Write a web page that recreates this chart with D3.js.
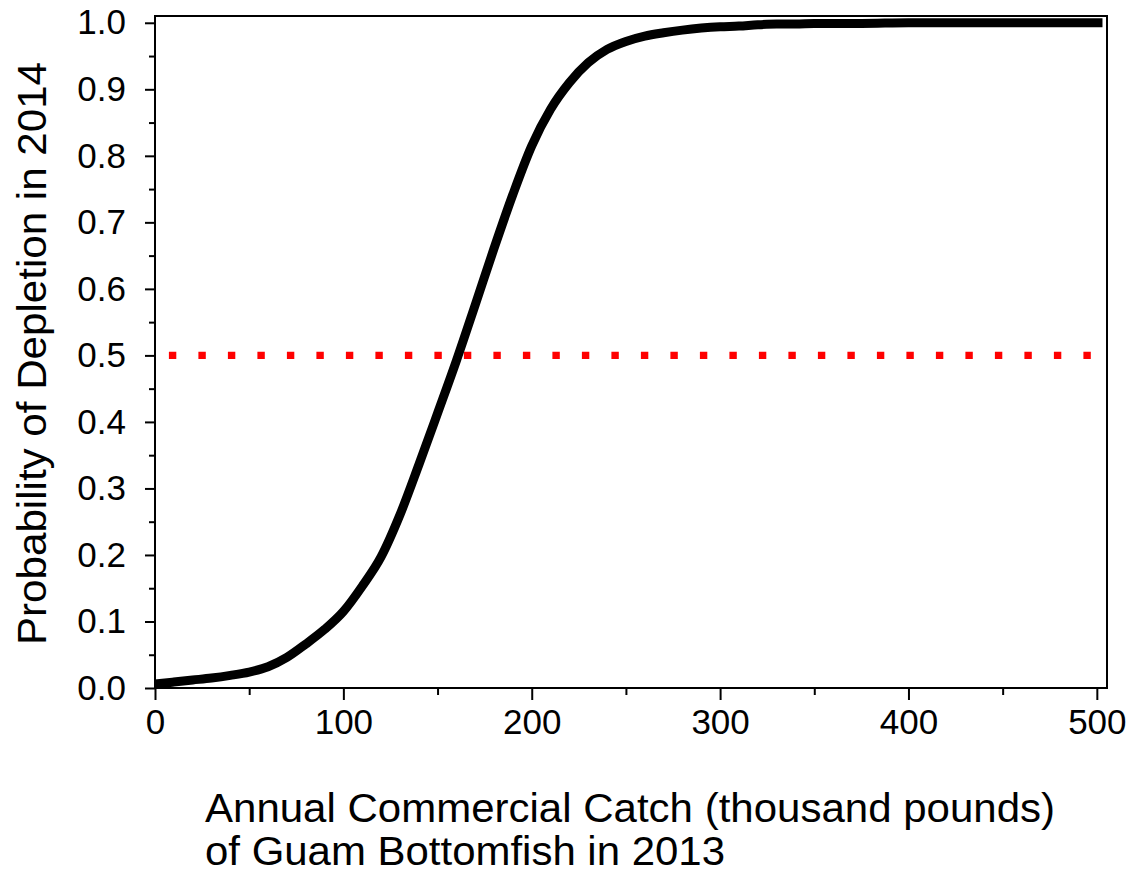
<!DOCTYPE html>
<html>
<head>
<meta charset="utf-8">
<script src="https://cdn.jsdelivr.net/npm/d3@7"></script>
<style>
  body { margin: 0; background: #fff; }
  text { font-family: "Liberation Sans", Arial, sans-serif; fill: #000; }
</style>
</head>
<body>
<script>
// catch (thousand pounds) and probability of depletion
const catchK = [0, 10, 20, 30, 40, 50, 60, 70, 80, 90, 100, 110, 120, 130, 140, 150,
  160, 170, 180, 190, 200, 210, 220, 230, 240, 250, 260, 270, 280, 290, 300, 310,
  320, 330, 340, 350, 375, 400, 450, 503];
const probDepletion = [0.006, 0.009, 0.012, 0.015, 0.019, 0.024, 0.032, 0.046, 0.066,
  0.088, 0.115, 0.153, 0.197, 0.260, 0.335, 0.413, 0.492, 0.576, 0.661, 0.742, 0.815,
  0.870, 0.910, 0.940, 0.960, 0.972, 0.980, 0.985, 0.989, 0.992, 0.994, 0.995, 0.997,
  0.998, 0.998, 0.999, 0.999, 1.0, 1.0, 1.0];
const threshold = 0.5;

const xTicks = [0, 100, 200, 300, 400, 500];
const xMinor = [50, 150, 250, 350, 450];
const yTicks = d3.range(0, 11).map(i => i / 10);
const yMinor = d3.range(0, 10).map(i => i / 10 + 0.05);

const xTitle = ["Annual Commercial Catch (thousand pounds)", "of Guam Bottomfish in 2013"];
const yTitle = "Probability of Depletion in 2014";

const W = 1134, H = 875;
const margin = { top: 16, right: 27, bottom: 187, left: 155 };

const x = d3.scaleLinear().domain([0, 505.4]).range([margin.left, W - margin.right]);
const y = d3.scaleLinear().domain([0, 1.0102]).range([H - margin.bottom, margin.top]);

const svg = d3.select("body").append("svg")
  .attr("width", W)
  .attr("height", H);

//x axis ticks
const xAxis = svg.append("g")
  .attr("transform", `translate(0, ${y(0)})`);
xAxis.call(d3.axisBottom(x).tickValues(xTicks).tickSize(12).tickPadding(9).tickFormat(d3.format("d")));
xAxis.append("g").call(d3.axisBottom(x).tickValues(xMinor).tickSize(7).tickFormat(""));

//y axis ticks
const yAxis = svg.append("g")
  .attr("transform", `translate(${x(0)}, 0)`);
yAxis.call(d3.axisLeft(y).tickValues(yTicks).tickSize(10).tickPadding(19).tickFormat(d3.format(".1f")));
yAxis.append("g").call(d3.axisLeft(y).tickValues(yMinor).tickSize(6).tickFormat(""));

svg.selectAll(".domain").remove();
svg.selectAll(".tick line").attr("stroke", "#000").attr("stroke-width", 2);
svg.selectAll(".tick text")
  .style("font-size", "35px")
  .style("font-family", "'Liberation Sans', Arial, sans-serif")
  .attr("fill", "#000");

//dotted threshold line (first dot sits a little right of the axis)
svg.append("line")
  .attr("x1", x(0) + 13.9)
  .attr("x2", x(505.4) + 4)
  .attr("y1", y(threshold))
  .attr("y2", y(threshold))
  .attr("stroke", "#ff0000")
  .attr("stroke-width", 7.4)
  .attr("stroke-dasharray", "7.4 22.1");

//curve
const line = d3.line()
  .x((d, i) => x(catchK[i]))
  .y(d => y(d))
  .curve(d3.curveMonotoneX);

svg.append("path")
  .datum(probDepletion)
  .attr("d", line)
  .attr("fill", "none")
  .attr("stroke", "#000")
  .attr("stroke-width", 9);

//plot frame
svg.append("rect")
  .attr("x", x(0))
  .attr("y", y(1.0102))
  .attr("width", x(505.4) - x(0))
  .attr("height", y(0) - y(1.0102))
  .attr("fill", "none")
  .attr("stroke", "#000")
  .attr("stroke-width", 2);

//axis titles
svg.append("text")
  .attr("x", 205)
  .attr("y", 822)
  .style("font-size", "40px")
  .attr("textLength", 850)
  .attr("lengthAdjust", "spacingAndGlyphs")
  .text(xTitle[0]);
svg.append("text")
  .attr("x", 205)
  .attr("y", 865)
  .style("font-size", "40px")
  .attr("textLength", 520)
  .attr("lengthAdjust", "spacingAndGlyphs")
  .text(xTitle[1]);

svg.append("text")
  .attr("transform", "translate(46, 645) rotate(-90)")
  .style("font-size", "40px")
  .attr("textLength", 583)
  .attr("lengthAdjust", "spacingAndGlyphs")
  .text(yTitle);
</script>
</body>
</html>
